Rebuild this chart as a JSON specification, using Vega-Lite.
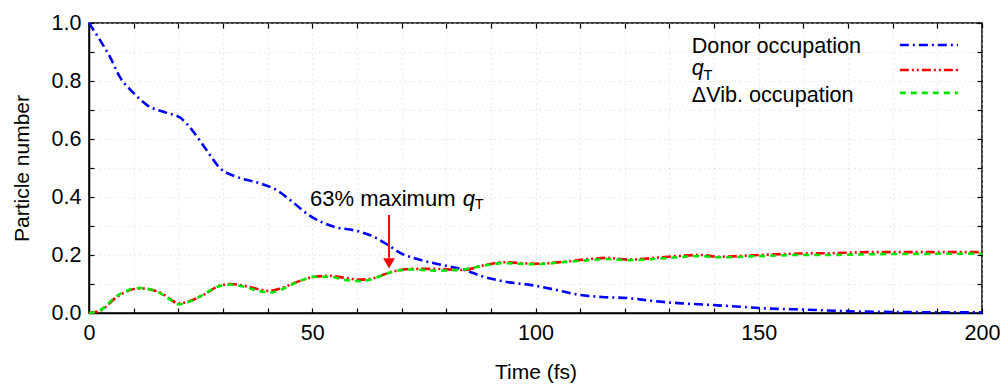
{
  "$schema": "https://vega.github.io/schema/vega-lite/v6.json",
  "width": 893,
  "height": 290,
  "autosize": "none",
  "padding": {"left": 89, "top": 23, "right": 21, "bottom": 72},
  "background": "white",
  "config": {
    "font": "Liberation Sans",
    "view": {"stroke": "black", "strokeWidth": 1.5}
  },
  "datasets": {
    "curves": [
      {"t": 0, "v": 1.0, "s": "Donor"},
      {"t": 2.5, "v": 0.94, "s": "Donor"},
      {"t": 4.7, "v": 0.883, "s": "Donor"},
      {"t": 6.9, "v": 0.814, "s": "Donor"},
      {"t": 9.9, "v": 0.76, "s": "Donor"},
      {"t": 13, "v": 0.717, "s": "Donor"},
      {"t": 17.4, "v": 0.69, "s": "Donor"},
      {"t": 20.4, "v": 0.674, "s": "Donor"},
      {"t": 22.6, "v": 0.64, "s": "Donor"},
      {"t": 26.4, "v": 0.56, "s": "Donor"},
      {"t": 29.3, "v": 0.5, "s": "Donor"},
      {"t": 33, "v": 0.47, "s": "Donor"},
      {"t": 38.3, "v": 0.447, "s": "Donor"},
      {"t": 42, "v": 0.424, "s": "Donor"},
      {"t": 45, "v": 0.39, "s": "Donor"},
      {"t": 49.5, "v": 0.335, "s": "Donor"},
      {"t": 54.7, "v": 0.298, "s": "Donor"},
      {"t": 60, "v": 0.283, "s": "Donor"},
      {"t": 63.5, "v": 0.265, "s": "Donor"},
      {"t": 67.2, "v": 0.232, "s": "Donor"},
      {"t": 70, "v": 0.205, "s": "Donor"},
      {"t": 74.5, "v": 0.182, "s": "Donor"},
      {"t": 79, "v": 0.166, "s": "Donor"},
      {"t": 83.8, "v": 0.15, "s": "Donor"},
      {"t": 88.2, "v": 0.126, "s": "Donor"},
      {"t": 93.6, "v": 0.107, "s": "Donor"},
      {"t": 98.8, "v": 0.097, "s": "Donor"},
      {"t": 104.8, "v": 0.079, "s": "Donor"},
      {"t": 110, "v": 0.062, "s": "Donor"},
      {"t": 115, "v": 0.055, "s": "Donor"},
      {"t": 121, "v": 0.051, "s": "Donor"},
      {"t": 126, "v": 0.042, "s": "Donor"},
      {"t": 132, "v": 0.034, "s": "Donor"},
      {"t": 139, "v": 0.028, "s": "Donor"},
      {"t": 146.5, "v": 0.021, "s": "Donor"},
      {"t": 150, "v": 0.017, "s": "Donor"},
      {"t": 157.7, "v": 0.013, "s": "Donor"},
      {"t": 165, "v": 0.009, "s": "Donor"},
      {"t": 172.6, "v": 0.005, "s": "Donor"},
      {"t": 185, "v": 0.003, "s": "Donor"},
      {"t": 200, "v": 0.002, "s": "Donor"},
      {"t": 0, "v": 0.0, "s": "qT"},
      {"t": 2.5, "v": 0.008, "s": "qT"},
      {"t": 6.2, "v": 0.055, "s": "qT"},
      {"t": 9, "v": 0.078, "s": "qT"},
      {"t": 11.4, "v": 0.085, "s": "qT"},
      {"t": 14, "v": 0.08, "s": "qT"},
      {"t": 16, "v": 0.07, "s": "qT"},
      {"t": 18, "v": 0.05, "s": "qT"},
      {"t": 20, "v": 0.033, "s": "qT"},
      {"t": 22, "v": 0.038, "s": "qT"},
      {"t": 24, "v": 0.05, "s": "qT"},
      {"t": 26.5, "v": 0.07, "s": "qT"},
      {"t": 28.6, "v": 0.09, "s": "qT"},
      {"t": 31.6, "v": 0.1, "s": "qT"},
      {"t": 35.4, "v": 0.092, "s": "qT"},
      {"t": 38, "v": 0.082, "s": "qT"},
      {"t": 40.5, "v": 0.076, "s": "qT"},
      {"t": 43, "v": 0.085, "s": "qT"},
      {"t": 45, "v": 0.097, "s": "qT"},
      {"t": 48, "v": 0.115, "s": "qT"},
      {"t": 50.2, "v": 0.124, "s": "qT"},
      {"t": 54, "v": 0.128, "s": "qT"},
      {"t": 57, "v": 0.122, "s": "qT"},
      {"t": 60.7, "v": 0.115, "s": "qT"},
      {"t": 63.7, "v": 0.12, "s": "qT"},
      {"t": 67.4, "v": 0.14, "s": "qT"},
      {"t": 72, "v": 0.152, "s": "qT"},
      {"t": 78, "v": 0.152, "s": "qT"},
      {"t": 83.8, "v": 0.148, "s": "qT"},
      {"t": 88, "v": 0.163, "s": "qT"},
      {"t": 92.7, "v": 0.175, "s": "qT"},
      {"t": 100, "v": 0.17, "s": "qT"},
      {"t": 106, "v": 0.176, "s": "qT"},
      {"t": 112, "v": 0.186, "s": "qT"},
      {"t": 116, "v": 0.19, "s": "qT"},
      {"t": 121, "v": 0.184, "s": "qT"},
      {"t": 128, "v": 0.192, "s": "qT"},
      {"t": 137, "v": 0.2, "s": "qT"},
      {"t": 141, "v": 0.194, "s": "qT"},
      {"t": 150, "v": 0.2, "s": "qT"},
      {"t": 159, "v": 0.205, "s": "qT"},
      {"t": 165, "v": 0.206, "s": "qT"},
      {"t": 176, "v": 0.21, "s": "qT"},
      {"t": 188, "v": 0.21, "s": "qT"},
      {"t": 200, "v": 0.21, "s": "qT"},
      {"t": 0, "v": 0.0, "s": "Vib"},
      {"t": 2.5, "v": 0.01, "s": "Vib"},
      {"t": 6.2, "v": 0.058, "s": "Vib"},
      {"t": 9, "v": 0.08, "s": "Vib"},
      {"t": 11.4, "v": 0.086, "s": "Vib"},
      {"t": 14, "v": 0.08, "s": "Vib"},
      {"t": 16, "v": 0.068, "s": "Vib"},
      {"t": 18, "v": 0.048, "s": "Vib"},
      {"t": 20, "v": 0.03, "s": "Vib"},
      {"t": 22, "v": 0.036, "s": "Vib"},
      {"t": 24, "v": 0.05, "s": "Vib"},
      {"t": 26.5, "v": 0.072, "s": "Vib"},
      {"t": 28.6, "v": 0.09, "s": "Vib"},
      {"t": 31.6, "v": 0.098, "s": "Vib"},
      {"t": 35.4, "v": 0.088, "s": "Vib"},
      {"t": 38, "v": 0.076, "s": "Vib"},
      {"t": 40.5, "v": 0.07, "s": "Vib"},
      {"t": 43, "v": 0.08, "s": "Vib"},
      {"t": 45, "v": 0.095, "s": "Vib"},
      {"t": 48, "v": 0.115, "s": "Vib"},
      {"t": 50.2, "v": 0.125, "s": "Vib"},
      {"t": 54, "v": 0.125, "s": "Vib"},
      {"t": 57, "v": 0.115, "s": "Vib"},
      {"t": 60.7, "v": 0.11, "s": "Vib"},
      {"t": 63.7, "v": 0.118, "s": "Vib"},
      {"t": 67.4, "v": 0.14, "s": "Vib"},
      {"t": 72, "v": 0.15, "s": "Vib"},
      {"t": 78, "v": 0.146, "s": "Vib"},
      {"t": 83.8, "v": 0.15, "s": "Vib"},
      {"t": 88, "v": 0.162, "s": "Vib"},
      {"t": 92.7, "v": 0.172, "s": "Vib"},
      {"t": 100, "v": 0.168, "s": "Vib"},
      {"t": 106, "v": 0.175, "s": "Vib"},
      {"t": 112, "v": 0.182, "s": "Vib"},
      {"t": 116, "v": 0.186, "s": "Vib"},
      {"t": 121, "v": 0.182, "s": "Vib"},
      {"t": 128, "v": 0.188, "s": "Vib"},
      {"t": 137, "v": 0.196, "s": "Vib"},
      {"t": 141, "v": 0.192, "s": "Vib"},
      {"t": 150, "v": 0.196, "s": "Vib"},
      {"t": 159, "v": 0.2, "s": "Vib"},
      {"t": 165, "v": 0.2, "s": "Vib"},
      {"t": 176, "v": 0.203, "s": "Vib"},
      {"t": 188, "v": 0.204, "s": "Vib"},
      {"t": 200, "v": 0.205, "s": "Vib"}
    ]
  },
  "resolve": {"axis": {"x": "independent", "y": "independent"}},
  "layer": [
    {
      "data": {"name": "curves"},
      "mark": {"type": "line", "strokeWidth": 2.6, "interpolate": "monotone"},
      "encoding": {
        "x": {
          "field": "t", "type": "quantitative",
          "scale": {"domain": [0, 200], "nice": false},
          "axis": {
            "title": "Time (fs)",
            "values": [0,10,20,30,40,50,60,70,80,90,100,110,120,130,140,150,160,170,180,190,200],
            "labelExpr": "datum.value % 50 === 0 ? datum.label : ''",
            "grid": true,
            "gridColor": "#d4d4d4",
            "gridDash": [1, 4],
            "domainColor": "black",
            "domainWidth": 1.5,
            "tickColor": "black",
            "tickWidth": 1.2,
            "tickSize": -5,
            "labelColor": "black",
            "labelFontSize": 21.5,
            "labelPadding": 14,
            "labelFlush": false,
            "titleColor": "black",
            "titleFontSize": 21,
            "titleFontWeight": "normal",
            "titlePadding": 18
          }
        },
        "y": {
          "field": "v", "type": "quantitative",
          "scale": {"domain": [0, 1], "nice": false},
          "axis": {
            "title": "Particle number",
            "values": [0,0.1,0.2,0.3,0.4,0.5,0.6,0.7,0.8,0.9,1.0],
            "labelExpr": "round(datum.value*10) % 2 === 0 ? format(datum.value, '.1f') : ''",
            "grid": true,
            "gridColor": "#d4d4d4",
            "gridDash": [1, 4],
            "domainColor": "black",
            "domainWidth": 1.5,
            "tickColor": "black",
            "tickWidth": 1.2,
            "tickSize": -5,
            "labelColor": "black",
            "labelFontSize": 21.5,
            "labelPadding": 13,
            "labelFlush": false,
            "titleColor": "black",
            "titleFontSize": 21,
            "titleFontWeight": "normal",
            "titlePadding": 19
          }
        },
        "color": {
          "field": "s", "type": "nominal",
          "scale": {"domain": ["Donor", "qT", "Vib"], "range": ["#0000ff", "#ff0000", "#00e600"]},
          "legend": null
        },
        "strokeDash": {
          "field": "s", "type": "nominal",
          "scale": {"domain": ["Donor", "qT", "Vib"], "range": [[9, 4, 2, 4], [9, 3, 2, 3, 2, 3], [6, 5]]},
          "legend": null
        }
      }
    },
    {
      "data": {"name": "curves"},
      "mark": {"type": "line", "opacity": 0},
      "encoding": {
        "x": {"field": "t", "type": "quantitative",
          "axis": {"orient": "top", "title": null, "labels": false, "grid": false, "domain": false, "tickColor": "black", "tickWidth": 1.2,
            "values": [0,10,20,30,40,50,60,70,80,90,100,110,120,130,140,150,160,170,180,190,200], "tickSize": -5}},
        "y": {"field": "v", "type": "quantitative",
          "axis": {"orient": "right", "title": null, "labels": false, "grid": false, "domain": false, "tickColor": "black", "tickWidth": 1.2,
            "values": [0,0.1,0.2,0.3,0.4,0.5,0.6,0.7,0.8,0.9,1.0], "tickSize": -5}}
      }
    },
    {
      "data": {"values": [{}]},
      "mark": {"type": "text", "text": "63% maximum", "align": "left", "baseline": "alphabetic", "fontSize": 22, "color": "black"},
      "encoding": {
        "x": {"datum": 49.5, "type": "quantitative", "axis": null},
        "y": {"datum": 0.369, "type": "quantitative", "axis": null}
      }
    },
    {
      "data": {"values": [{}]},
      "mark": {"type": "text", "text": "q", "align": "left", "baseline": "alphabetic", "fontSize": 22, "fontStyle": "italic", "color": "black"},
      "encoding": {
        "x": {"datum": 83.7, "type": "quantitative", "axis": null},
        "y": {"datum": 0.369, "type": "quantitative", "axis": null}
      }
    },
    {
      "data": {"values": [{}]},
      "mark": {"type": "text", "text": "T", "align": "left", "baseline": "alphabetic", "fontSize": 14.5, "color": "black"},
      "encoding": {
        "x": {"datum": 86.4, "type": "quantitative", "axis": null},
        "y": {"datum": 0.36, "type": "quantitative", "axis": null}
      }
    },
    {
      "data": {"values": [{}]},
      "mark": {"type": "rule", "color": "#ff0000", "strokeWidth": 2},
      "encoding": {
        "x": {"datum": 67.2, "type": "quantitative", "axis": null},
        "y": {"datum": 0.338, "type": "quantitative", "axis": null},
        "y2": {"datum": 0.19}
      }
    },
    {
      "data": {"values": [{}]},
      "mark": {"type": "point", "shape": "triangle-down", "filled": true, "color": "#ff0000", "size": 140, "opacity": 1},
      "encoding": {
        "x": {"datum": 67.2, "type": "quantitative", "axis": null},
        "y": {"datum": 0.171, "type": "quantitative", "axis": null}
      }
    },
    {
      "data": {"values": [{}]},
      "mark": {"type": "text", "text": "Donor occupation", "align": "left", "baseline": "alphabetic", "fontSize": 21.6, "color": "black"},
      "encoding": {
        "x": {"datum": 135, "type": "quantitative", "axis": null},
        "y": {"datum": 0.897, "type": "quantitative", "axis": null}
      }
    },
    {
      "data": {"values": [{}]},
      "mark": {"type": "text", "text": "q", "align": "left", "baseline": "alphabetic", "fontSize": 21.6, "fontStyle": "italic", "color": "black"},
      "encoding": {
        "x": {"datum": 135, "type": "quantitative", "axis": null},
        "y": {"datum": 0.821, "type": "quantitative", "axis": null}
      }
    },
    {
      "data": {"values": [{}]},
      "mark": {"type": "text", "text": "T", "align": "left", "baseline": "alphabetic", "fontSize": 14.5, "color": "black"},
      "encoding": {
        "x": {"datum": 137.6, "type": "quantitative", "axis": null},
        "y": {"datum": 0.805, "type": "quantitative", "axis": null}
      }
    },
    {
      "data": {"values": [{}]},
      "mark": {"type": "text", "text": "ΔVib. occupation", "align": "left", "baseline": "alphabetic", "fontSize": 21.6, "color": "black"},
      "encoding": {
        "x": {"datum": 135, "type": "quantitative", "axis": null},
        "y": {"datum": 0.728, "type": "quantitative", "axis": null}
      }
    },
    {
      "data": {"values": [{}]},
      "mark": {"type": "rule", "color": "#0000ff", "strokeWidth": 2.6, "strokeDash": [9, 4, 2, 4]},
      "encoding": {
        "x": {"datum": 181.6, "type": "quantitative", "axis": null},
        "x2": {"datum": 194.6},
        "y": {"datum": 0.924, "type": "quantitative", "axis": null}
      }
    },
    {
      "data": {"values": [{}]},
      "mark": {"type": "rule", "color": "#ff0000", "strokeWidth": 2.6, "strokeDash": [9, 3, 2, 3, 2, 3]},
      "encoding": {
        "x": {"datum": 181.6, "type": "quantitative", "axis": null},
        "x2": {"datum": 194.6},
        "y": {"datum": 0.838, "type": "quantitative", "axis": null}
      }
    },
    {
      "data": {"values": [{}]},
      "mark": {"type": "rule", "color": "#00e600", "strokeWidth": 2.6, "strokeDash": [6, 5]},
      "encoding": {
        "x": {"datum": 181.6, "type": "quantitative", "axis": null},
        "x2": {"datum": 194.6},
        "y": {"datum": 0.759, "type": "quantitative", "axis": null}
      }
    }
  ]
}
